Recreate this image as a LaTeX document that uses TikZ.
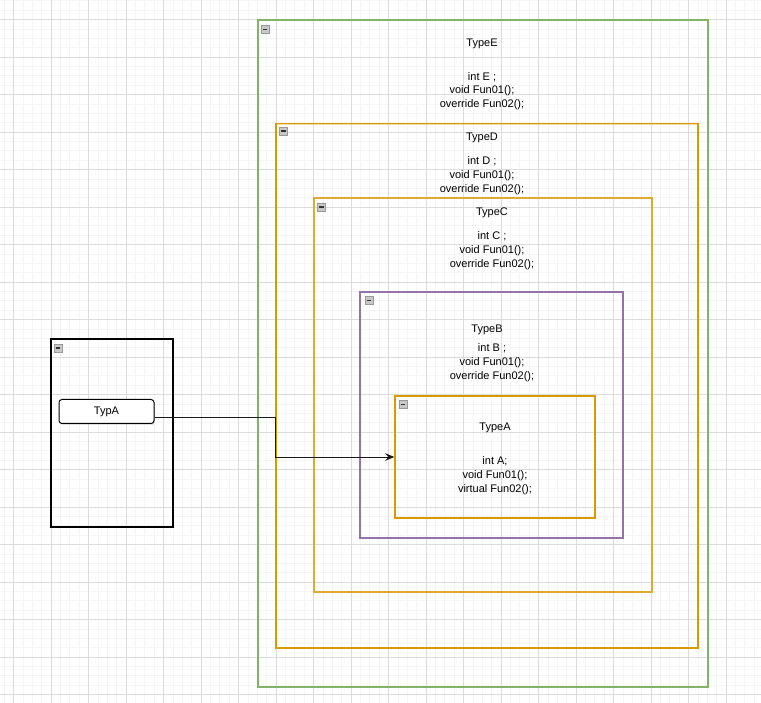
\documentclass[tikz,border=0pt]{standalone}
\usepackage{fontspec}
\setmainfont{Liberation Sans}
\usetikzlibrary{positioning,calc}
\usetikzlibrary{arrows.meta,shadows}
\definecolor{GridMajor}{RGB}{220,220,220}
\definecolor{GridMinor}{RGB}{245,245,245}
\definecolor{BoxGreen}{RGB}{130,179,102}
\definecolor{BoxOrange}{RGB}{215,155,0}
\definecolor{BoxGold}{RGB}{222,170,50}
\definecolor{BoxPurple}{RGB}{150,115,166}
\definecolor{IconGray}{RGB}{200,200,200}
\tikzset{
  cont/.style={rectangle,inner sep=0pt,line width=1.4pt,
    postaction={draw,opacity=.35,line width=0.8pt,transform canvas={shift={(0.8pt,-0.8pt)}}}},
  title/.style={font=\fontsize{11}{13.7}\selectfont,inner sep=0pt},
  body/.style={font=\fontsize{11}{13.7}\selectfont,inner sep=0pt,align=center},
  minus/.style={draw=gray!80,fill=IconGray,minimum size=8pt,inner sep=0pt,
    path picture={\draw[black!80,line width=1.2pt]
      ([xshift=1.6pt]path picture bounding box.west)--([xshift=-1.6pt]path picture bounding box.east);}},
  button/.style={draw=black,line width=1pt,fill=white,rounded corners=3pt,
    minimum width=95pt,minimum height=24pt,inner sep=0pt,font=\fontsize{11}{13}\selectfont,
    drop shadow={opacity=.25,shadow xshift=1pt,shadow yshift=-1.5pt}},
  link/.style={draw=black!90,line width=1pt,-{Stealth[length=9pt,width=7.5pt]}},
}

\begin{document}
\begin{tikzpicture}[x=1pt,y=-1pt]
\useasboundingbox (0,0) rectangle (761,703);
\fill[white] (0,0) rectangle (761,703);
% grid
\foreach \i in {0,...,81} \draw[GridMinor,line width=0.6pt] (4.125+9.375*\i,0)--(4.125+9.375*\i,703);
\foreach \i in {0,...,75} \draw[GridMinor,line width=0.6pt] (0,0.75+9.375*\i)--(761,0.75+9.375*\i);
\foreach \i in {0,...,19} \draw[GridMajor,line width=0.8pt] (13.5+37.5*\i,0)--(13.5+37.5*\i,703);
\foreach \i in {0,...,18} \draw[GridMajor,line width=0.8pt] (0,19.5+37.5*\i)--(761,19.5+37.5*\i);

% containers
\node[cont,draw=BoxGreen,minimum width=450pt,minimum height=667pt] (typeE) at (483,353.5) {};
\node[cont,draw=BoxOrange,minimum width=422pt,minimum height=524.5pt] (typeD) at (487,385.75) {};
\node[cont,draw=BoxGold,minimum width=338pt,minimum height=394pt] (typeC) at (483,395) {};
\node[cont,draw=BoxPurple,minimum width=263pt,minimum height=246pt] (typeB) at (491.5,415) {};
\node[cont,draw=BoxOrange,minimum width=200pt,minimum height=122pt] (typeA) at (495,457) {};
\node[cont,draw=black,minimum width=122pt,minimum height=188pt] (holder) at (112,433) {};

% collapse icons
\node[minus] (iconE) at (265,29.5) {};
\node[minus] (iconD) at (283.5,131) {};
\node[minus] (iconC) at (321.5,207) {};
\node[minus] (iconB) at (369,300.5) {};
\node[minus] (iconA) at (403,404.5) {};
\node[minus] (iconH) at (58,348) {};

% texts
\node[title] (titleE) at (482,44) {TypeE};
\node[body] (bodyE) at (482,91) {int E ;\\void Fun01();\\override Fun02();};
\node[title] (titleD) at (482,138) {TypeD};
\node[body] (bodyD) at (482,175.5) {int D ;\\void Fun01();\\override Fun02();};
\node[title] (titleC) at (492,213) {TypeC};
\node[body] (bodyC) at (492,250.5) {int C ;\\void Fun01();\\override Fun02();};
\node[title] (titleB) at (487,330) {TypeB};
\node[body] (bodyB) at (492,362.5) {int B ;\\void Fun01();\\override Fun02();};
\node[title] (titleA) at (495,428) {TypeA};
\node[body] (bodyA) at (495,475.5) {int A;\\void Fun01();\\virtual Fun02();};

% reference
\node[button] (typA) at (106.5,411.5) {TypA};
\coordinate (elbow) at (275,418);
\draw[link] (typA.east|-elbow) -- (elbow) |- (typeA.west);
\end{tikzpicture}
\end{document}
